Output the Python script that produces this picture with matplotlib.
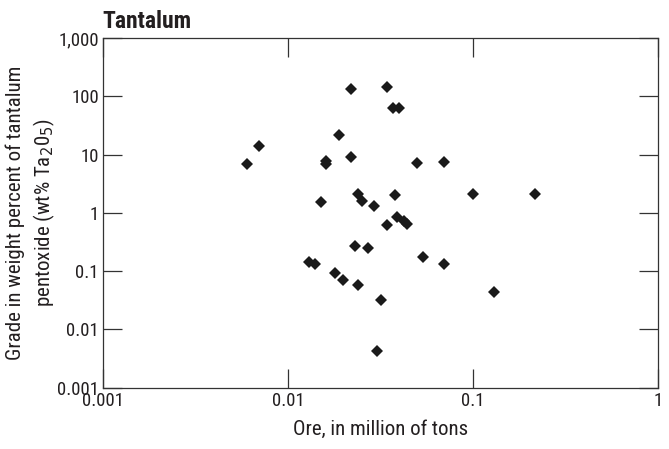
import matplotlib
matplotlib.use('Agg')
import matplotlib.pyplot as plt
from matplotlib.ticker import FixedLocator, NullLocator

plt.rcParams['font.family'] = ['Roboto Condensed', 'DejaVu Sans']

# ore tonnage (million tons) and Ta2O5 grade (wt%)
ore = [0.0060, 0.0070, 0.0160, 0.0160, 0.0150, 0.0189, 0.0219, 0.0341, 0.0371, 0.0400,
       0.0219, 0.0495, 0.0697, 0.0240, 0.0250, 0.0290, 0.0380, 0.100, 0.216, 0.0341,
       0.0390, 0.0424, 0.0442, 0.0230, 0.0270, 0.0538, 0.0697, 0.0130, 0.0140, 0.0180,
       0.0199, 0.0240, 0.0320, 0.130, 0.0301]
grade = [6.9, 14.1, 7.8, 6.8, 1.54, 21.7, 133, 146, 64, 64,
         9.2, 7.1, 7.55, 2.1, 1.6, 1.31, 2.03, 2.1, 2.1, 0.62,
         0.86, 0.73, 0.645, 0.274, 0.253, 0.173, 0.131, 0.144, 0.131, 0.094,
         0.0707, 0.058, 0.032, 0.0446, 0.00434]

xticks = [0.001, 0.01, 0.1, 1]
xlabels = ['0.001', '0.01', '0.1', '1']
yticks = [0.001, 0.01, 0.1, 1, 10, 100, 1000]
ylabels = ['0.001', '0.01', '0.1', '1', '10', '100', '1,000']

fig = plt.figure(figsize=(6.69, 4.49), dpi=100)
ax = fig.add_axes([0.154, 0.1365, 0.8296, 0.779])

ax.plot(ore, grade, 'D', color='#1a1a1a', markersize=6.2, markeredgewidth=0)

ax.set_xscale('log')
ax.set_yscale('log')
ax.set_xlim(0.001, 1)
ax.set_ylim(0.001, 1000)

ax.xaxis.set_major_locator(FixedLocator(xticks))
ax.yaxis.set_major_locator(FixedLocator(yticks))
ax.xaxis.set_minor_locator(NullLocator())
ax.yaxis.set_minor_locator(NullLocator())
ax.set_xticklabels(xlabels)
ax.set_yticklabels(ylabels)

ax.tick_params(which='major', direction='in', length=13.5, width=0.9, color='#333333',
               top=True, right=True, labelsize=13.5, pad=3, labelcolor='#231f20')
for s in ax.spines.values():
    s.set_linewidth(0.9)
    s.set_color('#333333')

ax.set_xlabel('Ore, in million of tons', fontsize=15, color='#231f20', labelpad=7)
ax.set_ylabel('Grade in weight percent of tantalum\npentoxide (wt% Ta$_2$0$_5$)',
              fontsize=15, color='#231f20', linespacing=1.35)
ax.yaxis.set_label_coords(-0.083, 0.5)
ax.set_title('Tantalum', loc='left', fontsize=17, fontweight='bold', color='#231f20', pad=7,
             x=-0.002)

fig.savefig('out.png', dpi=100)
